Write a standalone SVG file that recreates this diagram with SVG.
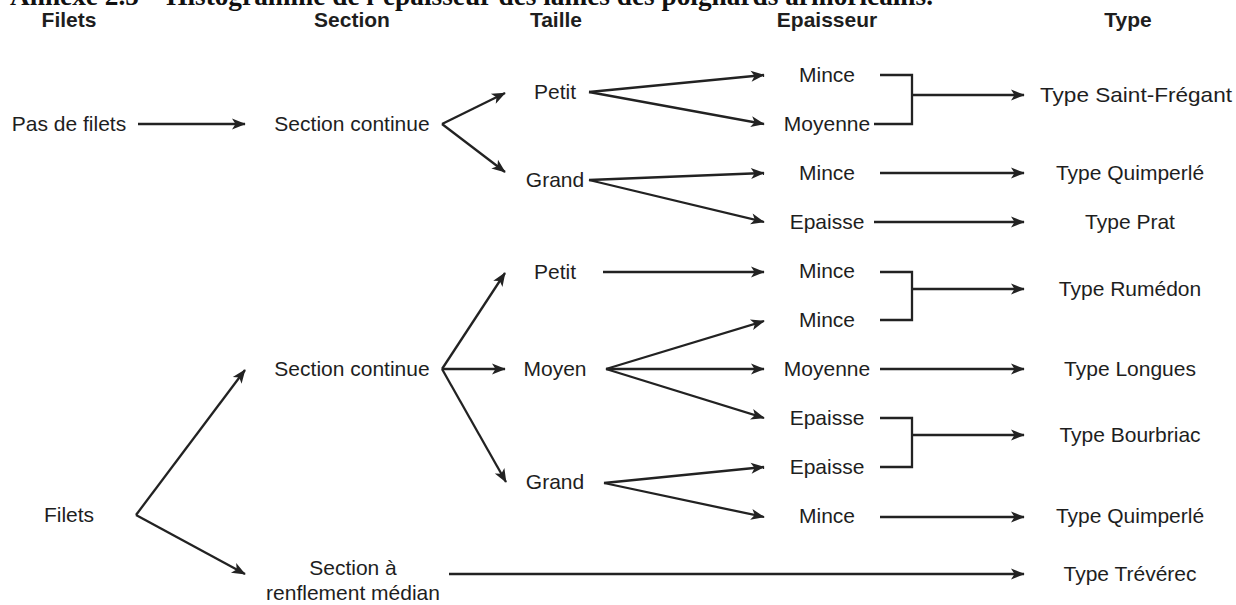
<svg xmlns="http://www.w3.org/2000/svg" width="1236" height="605" viewBox="0 0 1236 605">
<style>
  .t { font-family: "Liberation Sans", Arial, sans-serif; font-size: 21px; fill: #1e1e1e; text-anchor: middle; }
  .h { font-family: "Liberation Sans", Arial, sans-serif; font-size: 21px; font-weight: bold; fill: #1e1e1e; text-anchor: middle; }
  .title { font-family: "Liberation Serif", "Times New Roman", serif; font-size: 27px; font-weight: bold; fill: #111; }
  .c { stroke: #222; stroke-width: 2.3; fill: none; }
  .a { marker-end: url(#ah); }
</style>
<defs>
  <marker id="ah" viewBox="-14 -7 15 14" markerWidth="15" markerHeight="14" refX="0" refY="0" orient="auto" markerUnits="userSpaceOnUse">
    <path d="M-13,-5.5 L0.8,0 L-13,5.5 L-9.5,0 Z" fill="#222"/>
  </marker>
</defs>
<rect width="1236" height="605" fill="#fff"/>
<text class="title" x="10" y="5" textLength="923" lengthAdjust="spacingAndGlyphs">Annexe 2.5 – Histogramme de l’épaisseur des lames des poignards armoricains.</text>

<g id="headers">
  <text class="h" x="69" y="27">Filets</text>
  <text class="h" x="352" y="27">Section</text>
  <text class="h" x="556" y="27">Taille</text>
  <text class="h" x="827" y="27">Epaisseur</text>
  <text class="h" x="1128" y="27">Type</text>
</g>

<g id="n-pas-de-filets"><text class="t" x="69" y="131">Pas de filets</text></g>
<g id="n-section-continue-1"><text class="t" x="352" y="131">Section continue</text></g>
<g id="n-petit-1"><text class="t" x="555" y="99">Petit</text></g>
<g id="n-grand-1"><text class="t" x="555" y="187">Grand</text></g>
<g id="n-mince-1"><text class="t" x="827" y="82">Mince</text></g>
<g id="n-moyenne-1"><text class="t" x="827" y="131">Moyenne</text></g>
<g id="n-mince-2"><text class="t" x="827" y="180">Mince</text></g>
<g id="n-epaisse-1"><text class="t" x="827" y="229">Epaisse</text></g>
<g id="n-saint-fregant"><text class="t" x="1040" y="102" text-anchor="start" style="text-anchor:start" textLength="192" lengthAdjust="spacingAndGlyphs">Type Saint-Frégant</text></g>
<g id="n-quimperle-1"><text class="t" x="1130" y="180">Type Quimperlé</text></g>
<g id="n-prat"><text class="t" x="1130" y="229">Type Prat</text></g>

<g id="n-filets"><text class="t" x="69" y="522">Filets</text></g>
<g id="n-section-continue-2"><text class="t" x="352" y="376">Section continue</text></g>
<g id="n-section-renflement"><text class="t" x="353" y="575">Section à</text><text class="t" x="353" y="600">renflement médian</text></g>
<g id="n-petit-2"><text class="t" x="555" y="279">Petit</text></g>
<g id="n-moyen"><text class="t" x="555" y="376">Moyen</text></g>
<g id="n-grand-2"><text class="t" x="555" y="489">Grand</text></g>
<g id="n-mince-3"><text class="t" x="827" y="278">Mince</text></g>
<g id="n-mince-4"><text class="t" x="827" y="327">Mince</text></g>
<g id="n-moyenne-2"><text class="t" x="827" y="376">Moyenne</text></g>
<g id="n-epaisse-2"><text class="t" x="827" y="425">Epaisse</text></g>
<g id="n-epaisse-3"><text class="t" x="827" y="474">Epaisse</text></g>
<g id="n-mince-5"><text class="t" x="827" y="523">Mince</text></g>
<g id="n-rumedon"><text class="t" x="1130" y="296">Type Rumédon</text></g>
<g id="n-longues"><text class="t" x="1130" y="376">Type Longues</text></g>
<g id="n-bourbriac"><text class="t" x="1130" y="442">Type Bourbriac</text></g>
<g id="n-quimperle-2"><text class="t" x="1130" y="523">Type Quimperlé</text></g>
<g id="n-treverec"><text class="t" x="1130" y="581">Type Trévérec</text></g>

<g id="connectors">
  <line class="c a" x1="138" y1="124" x2="245" y2="124"/>
  <line class="c a" x1="442" y1="124" x2="505" y2="93"/>
  <line class="c a" x1="442" y1="124" x2="505" y2="172"/>
  <line class="c a" x1="589" y1="92" x2="764" y2="75"/>
  <line class="c a" x1="589" y1="92" x2="764" y2="124"/>
  <path class="c" d="M880,75 H912 V124 H874"/>
  <line class="c a" x1="912" y1="95" x2="1024" y2="95"/>
  <line class="c a" x1="589" y1="180" x2="764" y2="173"/>
  <line class="c a" x1="589" y1="180" x2="764" y2="222"/>
  <line class="c a" x1="880" y1="173" x2="1024" y2="173"/>
  <line class="c a" x1="874" y1="222" x2="1024" y2="222"/>

  <line class="c a" x1="136" y1="515" x2="245" y2="370"/>
  <line class="c a" x1="136" y1="515" x2="245" y2="574"/>
  <line class="c a" x1="442" y1="369" x2="505" y2="273"/>
  <line class="c a" x1="442" y1="369" x2="505" y2="369"/>
  <line class="c a" x1="442" y1="369" x2="506" y2="482"/>
  <line class="c a" x1="603" y1="272" x2="764" y2="272"/>
  <path class="c" d="M880,272 H912 V320 H880"/>
  <line class="c a" x1="912" y1="289" x2="1024" y2="289"/>
  <line class="c a" x1="606" y1="369" x2="764" y2="321"/>
  <line class="c a" x1="606" y1="369" x2="764" y2="369"/>
  <line class="c a" x1="606" y1="369" x2="764" y2="418"/>
  <line class="c a" x1="880" y1="369" x2="1024" y2="369"/>
  <path class="c" d="M880,418 H912 V467 H880"/>
  <line class="c a" x1="912" y1="435" x2="1024" y2="435"/>
  <line class="c a" x1="604" y1="483" x2="764" y2="467"/>
  <line class="c a" x1="604" y1="483" x2="764" y2="517"/>
  <line class="c a" x1="880" y1="517" x2="1024" y2="517"/>
  <line class="c a" x1="449" y1="574" x2="1024" y2="574"/>
</g>
</svg>
